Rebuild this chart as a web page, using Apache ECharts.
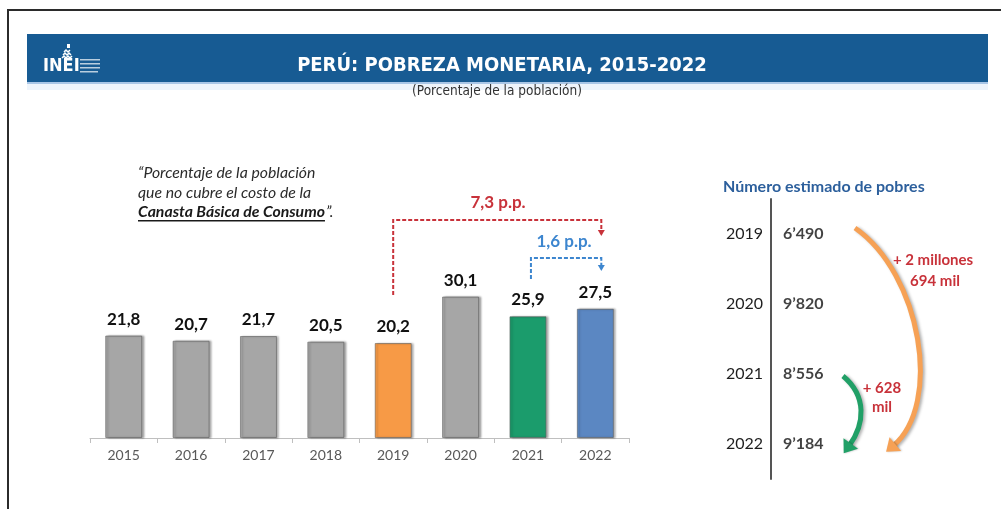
<!DOCTYPE html>
<html>
<head>
<meta charset="utf-8">
<script src="https://cdn.jsdelivr.net/npm/echarts@6/dist/echarts.min.js"></script>
<style>
  html, body { margin: 0; padding: 0; background: #fff; }
  #main { width: 1001px; height: 509px; }
</style>
</head>
<body>
<div id="main"></div>
<script>
	"use strict";

	/* data */
	var years = ['2015', '2016', '2017', '2018', '2019', '2020', '2021', '2022'];
	var pobreza = [21.8, 20.7, 21.7, 20.5, 20.2, 30.1, 25.9, 27.5];
	var barColors = ['#a6a6a6', '#a6a6a6', '#a6a6a6', '#a6a6a6', '#f79a46', '#a6a6a6', '#1b9c6c', '#5b87c2'];
	var pobresYears = ['2019', '2020', '2021', '2022'];
	var pobresMiles = [6490, 9820, 8556, 9184];
	var diffLabels = ['7,3 p.p.', '1,6 p.p.'];
	var arcLabels = [['+ 2 millones', '694 mil'], ['+ 628', 'mil']];

	var LATO = 'Lato, "Open Sans", sans-serif';
	var NARROW = '"Liberation Sans Narrow", "DejaVu Sans Condensed", sans-serif';

	function fmtComma(v) {
		return v.toFixed(1).replace('.', ',');
	}
	function fmtMiles(v) {
		var s = String(v);
		return s.slice(0, s.length - 3) + '\u2019' + s.slice(s.length - 3);
	}

	var chart = echarts.init(document.getElementById('main'));

	var option = {
		animation: false,
		backgroundColor: '#fff',
		grid: [{
			left: 90,
			right: 372,
			top: 250,
			bottom: 71
		}, {
			left: 771,
			top: 199,
			width: 200,
			height: 280
		}],
		xAxis: [{
			gridIndex: 0,
			type: 'category',
			data: years,
			axisLine: { lineStyle: { color: '#bfbfbf', width: 1 } },
			axisTick: { show: true, length: 5, lineStyle: { color: '#bfbfbf' } },
			axisLabel: { margin: 10, fontSize: 14, color: '#595959', fontFamily: LATO }
		}, {
			gridIndex: 1,
			type: 'value',
			min: 0,
			max: 1,
			show: false
		}],
		yAxis: [{
			gridIndex: 0,
			type: 'value',
			min: 0,
			max: 40,
			show: false
		}, {
			gridIndex: 1,
			type: 'category',
			inverse: true,
			data: pobresYears,
			axisLine: { show: true, lineStyle: { color: '#555', width: 2 } },
			axisTick: { show: false },
			axisLabel: { margin: 8, fontSize: 16, color: '#1e1e1e', fontFamily: LATO }
		}],
		series: [{
			type: 'bar',
			xAxisIndex: 0,
			yAxisIndex: 0,
			barWidth: 37,
			data: pobreza.map(function(v, i) {
				return {
					value: v,
					itemStyle: { color: barColors[i] }
				};
			}),
			itemStyle: {
				borderColor: 'rgba(90,90,90,0.55)',
				borderWidth: 1,
				shadowColor: 'rgba(0,0,0,0.35)',
				shadowBlur: 2,
				shadowOffsetX: 2,
				shadowOffsetY: 0
			},
			label: {
				show: true,
				position: 'top',
				distance: 8,
				fontSize: 17,
				fontWeight: 'bold',
				color: '#111',
				fontFamily: LATO,
				formatter: function(p) { return fmtComma(p.value); }
			}
		}, {
			type: 'scatter',
			xAxisIndex: 1,
			yAxisIndex: 1,
			symbolSize: 0,
			data: pobresMiles.map(function(v, i) { return [0, i, v]; }),
			label: {
				show: true,
				position: 'right',
				distance: 12,
				fontSize: 16,
				fontWeight: 'bold',
				color: '#111',
				fontFamily: LATO,
				formatter: function(p) { return fmtMiles(p.value[2]); }
			}
		}]
	};
	chart.setOption(option);

	/* text width helper */
	var mctx = document.createElement('canvas').getContext('2d');
	function textW(str, font) {
		mctx.font = font;
		return mctx.measureText(str).width;
	}

	/* annotations, placed from the axes */
	var catX = function(i) { return chart.convertToPixel({ xAxisIndex: 0 }, years[i]); };
	var rowY = function(i) { return chart.convertToPixel({ yAxisIndex: 1 }, pobresYears[i]); };
	var gridLeft2 = 771;

	var x2019 = catX(4), x2021 = catX(6), x2022 = catX(7);
	var redC = '#c8323a', blueC = '#3d86cf';

	function bracket(x1, yLow, yTop, x2, yEnd, color, lbl, lblX, lblY) {
		return [{
			type: 'polyline',
			shape: { points: [[x1, yLow], [x1, yTop], [x2, yTop], [x2, yEnd]] },
			style: { stroke: color, lineWidth: 2, lineDash: [4, 2], fill: null }
		}, {
			type: 'polygon',
			shape: { points: [[x2 - 3.5, yEnd - 1], [x2 + 3.5, yEnd - 1], [x2, yEnd + 5]] },
			style: { fill: color }
		}, {
			type: 'text',
			x: lblX, y: lblY,
			style: {
				text: lbl, fill: color, font: 'bold 17px ' + LATO,
				align: 'center', verticalAlign: 'middle'
			}
		}];
	}

	function cubicArrow(p0, c1, c2, p3, color, width) {
		var dx = p3[0] - c2[0], dy = p3[1] - c2[1];
		var len = Math.sqrt(dx * dx + dy * dy);
		dx /= len; dy /= len;
		var nx = -dy, ny = dx;
		var tip = [p3[0] + dx * 9, p3[1] + dy * 9];
		var b1 = [p3[0] - dx * 3 + nx * 9, p3[1] - dy * 3 + ny * 9];
		var b2 = [p3[0] - dx * 3 - nx * 9, p3[1] - dy * 3 - ny * 9];
		return [{
			type: 'bezierCurve',
			shape: { x1: p0[0], y1: p0[1], cpx1: c1[0], cpy1: c1[1], cpx2: c2[0], cpy2: c2[1], x2: p3[0], y2: p3[1] },
			style: {
				stroke: color, lineWidth: width, fill: null,
				shadowColor: 'rgba(0,0,0,0.3)', shadowBlur: 3, shadowOffsetX: 2, shadowOffsetY: 1
			}
		}, {
			type: 'polygon',
			shape: { points: [tip, b1, b2] },
			style: { fill: color, shadowColor: 'rgba(0,0,0,0.25)', shadowBlur: 2, shadowOffsetX: 1 }
		}];
	}

	var y19 = rowY(0), y21 = rowY(2), y22 = rowY(3);
	var orange = cubicArrow([gridLeft2 + 84, y19 - 6], [gridLeft2 + 150, y19 + 40], [gridLeft2 + 172, y22 - 40], [gridLeft2 + 122, y22 + 2], '#f6a155', 5);
	var green = cubicArrow([gridLeft2 + 72, y21 + 2], [gridLeft2 + 96, y21 + 22], [gridLeft2 + 94, y22 - 20], [gridLeft2 + 78, y22 + 2], '#21a067', 5);

	/* quote */
	var qFont = 'italic 15.8px ' + LATO;
	var qBold = 'italic bold 15.8px ' + LATO;
	var q3 = 'Canasta B\u00e1sica de Consumo';
	var q3w = textW(q3, qBold);
	var arcFont = 'bold 15px ' + LATO;

	var graphics = [
		/* frame */
		{ type: 'polyline', shape: { points: [[8, 509], [8, 10], [1001, 10]] }, style: { stroke: '#2b2b2b', lineWidth: 2, fill: null } },
		/* header band */
		{ type: 'rect', shape: { x: 27, y: 34, width: 961, height: 48 }, style: { fill: '#175b93' } },
		{ type: 'rect', shape: { x: 27, y: 82, width: 961, height: 2 }, style: { fill: '#a9c6e6' } },
		{ type: 'rect', shape: { x: 27, y: 84, width: 961, height: 6 }, style: { fill: '#eef4fb' } },
		/* logo */
		{ type: 'text', x: 43, y: 66, style: { text: 'INEI', fill: '#fff', font: 'bold 18px ' + NARROW, verticalAlign: 'middle' } },
		{ type: 'polyline', shape: { points: [[64, 52], [66, 50], [68, 52], [70, 50]] }, style: { stroke: '#fff', lineWidth: 1.5, fill: null } },
		{ type: 'polyline', shape: { points: [[63, 55], [65, 53], [67, 55], [69, 53], [71, 55]] }, style: { stroke: '#fff', lineWidth: 1.5, fill: null } },
		{ type: 'polyline', shape: { points: [[62, 58], [64, 56], [66, 58], [68, 56], [70, 58], [72, 56]] }, style: { stroke: '#fff', lineWidth: 1.5, fill: null } },
		{ type: 'rect', shape: { x: 67, y: 44, width: 3, height: 4 }, style: { fill: '#fff' } },
		{ type: 'rect', shape: { x: 80, y: 59, width: 20, height: 1.5 }, style: { fill: 'rgba(255,255,255,0.7)' } },
		{ type: 'rect', shape: { x: 80, y: 63, width: 20, height: 1.5 }, style: { fill: 'rgba(255,255,255,0.7)' } },
		{ type: 'rect', shape: { x: 80, y: 67, width: 20, height: 1.5 }, style: { fill: 'rgba(255,255,255,0.7)' } },
		{ type: 'rect', shape: { x: 80, y: 71, width: 18, height: 1.5 }, style: { fill: 'rgba(255,255,255,0.7)' } },
		/* titles */
		{ type: 'text', x: 502, y: 66, style: { text: 'PER\u00da: POBREZA MONETARIA, 2015-2022', fill: '#fff', font: 'bold 20px ' + NARROW, align: 'center', verticalAlign: 'middle' } },
		{ type: 'text', x: 497, y: 91, style: { text: '(Porcentaje de la poblaci\u00f3n)', fill: '#333', font: '13.5px ' + NARROW, align: 'center', verticalAlign: 'middle' } },
		/* quote */
		{ type: 'text', x: 138, y: 173, style: { text: '\u201cPorcentaje de la poblaci\u00f3n', fill: '#2b2b2b', font: qFont, verticalAlign: 'middle' } },
		{ type: 'text', x: 138, y: 193, style: { text: 'que no cubre el costo de la', fill: '#2b2b2b', font: qFont, verticalAlign: 'middle' } },
		{ type: 'text', x: 138, y: 212, style: { text: q3, fill: '#1a1a1a', font: qBold, verticalAlign: 'middle' } },
		{ type: 'rect', shape: { x: 138, y: 220, width: q3w, height: 1.5 }, style: { fill: '#1a1a1a' } },
		{ type: 'text', x: 138 + q3w + 1, y: 212, style: { text: '\u201d.', fill: '#2b2b2b', font: qFont, verticalAlign: 'middle' } },
		/* right panel header */
		{ type: 'text', x: 723, y: 187, style: { text: 'N\u00famero estimado de pobres', fill: '#2c5f9c', font: 'bold 16px ' + LATO, verticalAlign: 'middle' } },
		{ type: 'text', x: 933, y: 260, style: { text: arcLabels[0][0], fill: redC, font: arcFont, align: 'center', verticalAlign: 'middle' } },
		{ type: 'text', x: 935, y: 281, style: { text: arcLabels[0][1], fill: redC, font: arcFont, align: 'center', verticalAlign: 'middle' } },
		{ type: 'text', x: 882, y: 388, style: { text: arcLabels[1][0], fill: redC, font: arcFont, align: 'center', verticalAlign: 'middle' } },
		{ type: 'text', x: 882, y: 407, style: { text: arcLabels[1][1], fill: redC, font: arcFont, align: 'center', verticalAlign: 'middle' } }
	];

	graphics = graphics
		.concat(bracket(x2019, 295, 220, x2022 + 6, 231, redC, diffLabels[0], 498, 203))
		.concat(bracket(x2021 + 3, 279, 258, x2022 + 6, 266, blueC, diffLabels[1], 564, 242))
		.concat(orange)
		.concat(green);

	chart.setOption({ graphic: graphics });
</script>
</body>
</html>
